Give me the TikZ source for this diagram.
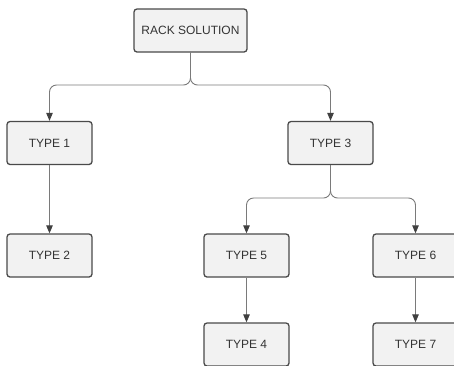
\documentclass[tikz,border=0pt]{standalone}
\usepackage{fontspec}
\setmainfont{Liberation Sans}
\usetikzlibrary{arrows.meta}
\definecolor{boxfill}{HTML}{F2F2F2}
\definecolor{boxline}{HTML}{4A4A4A}
\definecolor{linkline}{HTML}{7A7A7A}
\definecolor{tipcol}{HTML}{404040}
\definecolor{txt}{HTML}{333333}
\tikzset{
  box/.style={draw=boxline, line width=1.3pt, fill=boxfill, rounded corners=3pt,
    minimum width=85pt, minimum height=43pt, inner sep=0pt, text=txt,
    font=\fontsize{12}{14}\selectfont},
  link/.style={draw=linkline, line width=0.9pt, rounded corners=7pt,
    -{Triangle[length=8pt,width=6.5pt,fill=tipcol,color=tipcol]}},
}
\begin{document}
\begin{tikzpicture}[x=1pt,y=-1pt]
\useasboundingbox (0,0) rectangle (454,365);
\clip (0,0) rectangle (454,365);
\node[box, minimum width=113pt] (rack) at (190.5,30.5) {RACK SOLUTION};
\node[box] (t1) at (49.5,143) {TYPE 1};
\node[box] (t2) at (49.5,255.5) {TYPE 2};
\node[box] (t3) at (330.5,143) {TYPE 3};
\node[box] (t5) at (246.5,255.5) {TYPE 5};
\node[box] (t6) at (415.5,255.5) {TYPE 6};
\node[box] (t4) at (246.5,344.5) {TYPE 4};
\node[box] (t7) at (415.5,344.5) {TYPE 7};
\coordinate (j1) at (190.5,85);
\coordinate (j3) at (330.5,198);
\draw[link] (rack.south) -- (j1) -| (t1.north);
\draw[link] (rack.south) -- (j1) -| (t3.north);
\draw[link] (t1.south) -- (t2.north);
\draw[link] (t3.south) -- (j3) -| (t5.north);
\draw[link] (t3.south) -- (j3) -| (t6.north);
\draw[link] (t5.south) -- (t4.north);
\draw[link] (t6.south) -- (t7.north);
\end{tikzpicture}
\end{document}
